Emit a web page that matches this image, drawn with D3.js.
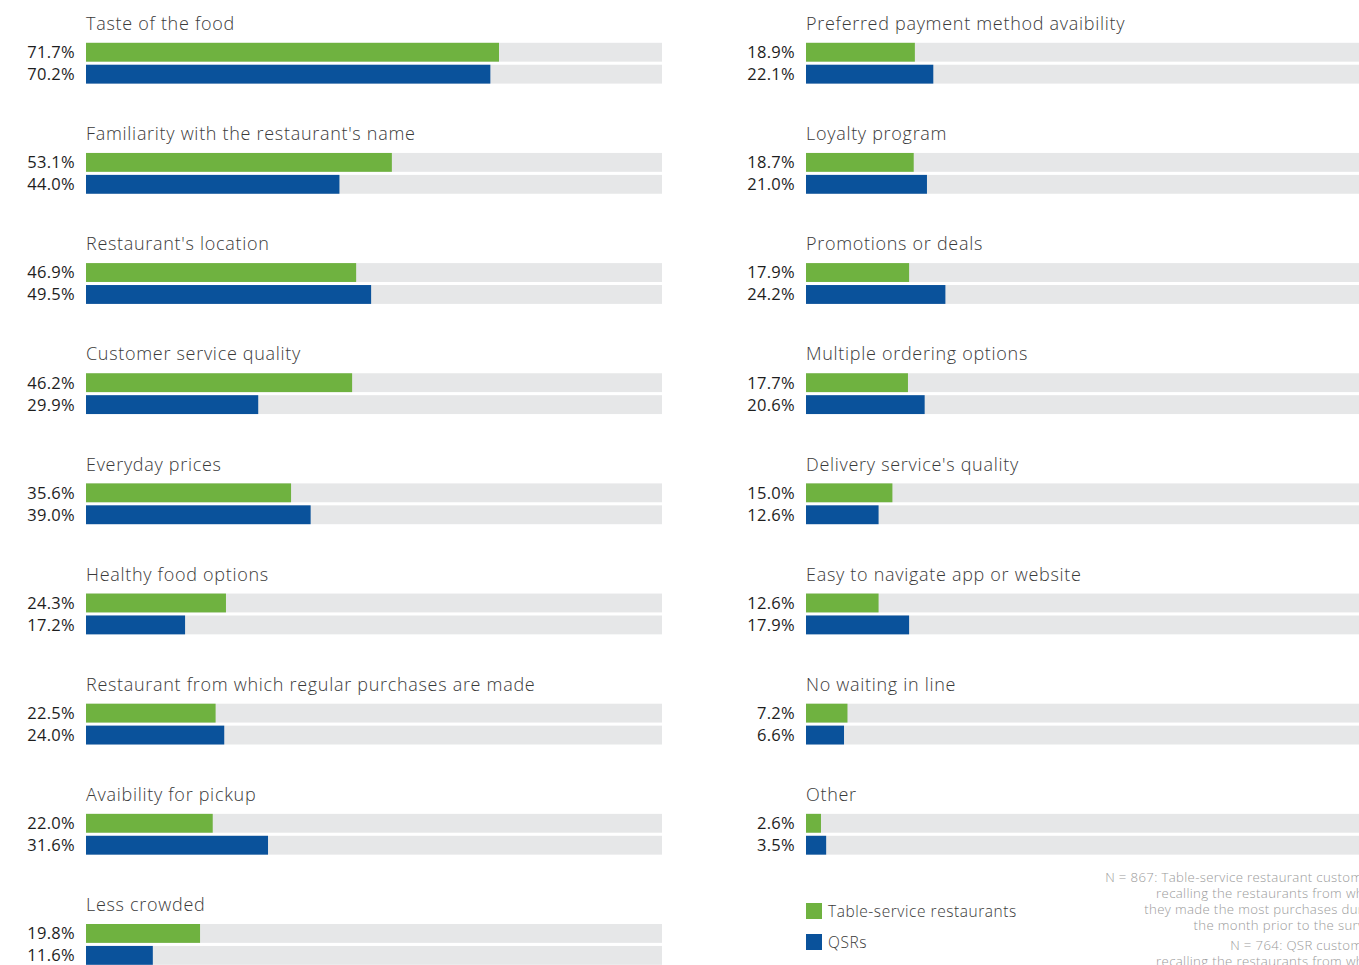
<!DOCTYPE html>
<html>
<head>
<meta charset="utf-8">
<script src="https://cdn.jsdelivr.net/npm/d3@7"></script>
<style>
  html, body { margin: 0; padding: 0; background: #fff; overflow: hidden; }
  svg { display: block; font-family: "Open Sans", Roboto, sans-serif; }
</style>
</head>
<body>
<svg id="chart" width="1359" height="965"></svg>
<script>
// Factors influencing restaurant choice, % of respondents
const leftCategories = [
  "Taste of the food",
  "Familiarity with the restaurant's name",
  "Restaurant's location",
  "Customer service quality",
  "Everyday prices",
  "Healthy food options",
  "Restaurant from which regular purchases are made",
  "Avaibility for pickup",
  "Less crowded"
];
const leftTableService = [71.7, 53.1, 46.9, 46.2, 35.6, 24.3, 22.5, 22.0, 19.8];
const leftQSR          = [70.2, 44.0, 49.5, 29.9, 39.0, 17.2, 24.0, 31.6, 11.6];

const rightCategories = [
  "Preferred payment method avaibility",
  "Loyalty program",
  "Promotions or deals",
  "Multiple ordering options",
  "Delivery service's quality",
  "Easy to navigate app or website",
  "No waiting in line",
  "Other"
];
const rightTableService = [18.9, 18.7, 17.9, 17.7, 15.0, 12.6, 7.2, 2.6];
const rightQSR          = [22.1, 21.0, 24.2, 20.6, 12.6, 17.9, 6.6, 3.5];

const seriesNames = ["Table-service restaurants", "QSRs"];
const colors = ["#6fb240", "#0a529b"];
const trackColor = "#e6e7e8";

const footnotes = [
  ["N = 867: Table-service restaurant customers",
   "recalling the restaurants from which",
   "they made the most purchases during",
   "the month prior to the survey."],
  ["N = 764: QSR customers",
   "recalling the restaurants from which",
   "they made the most purchases during",
   "the month prior to the survey."]
];

const svg = d3.select("#chart");

const barWidth = 576;
const x = d3.scaleLinear().domain([0, 100]).range([0, barWidth]);
const groupStep = 110.15;

function drawColumn(left, cats, a, b) {
  const rows = cats.map((c, i) => ({ name: c, values: [a[i], b[i]] }));
  const y = d3.scaleLinear().domain([0, 1]).range([0, groupStep]);
  const g = svg.append("g").attr("transform", `translate(${left},0)`);

  const grp = g.selectAll("g.grp").data(rows).join("g")
    .attr("class", "grp")
    .attr("transform", (d, i) => `translate(0,${y(i)})`);

  grp.append("text")
    .attr("x", 0).attr("y", 30)
    .attr("font-size", 18).attr("font-weight", 300)
    .attr("letter-spacing", 0.7)
    .attr("fill", "#3a3a3a")
    .text(d => d.name);

  const sub = d3.scaleBand().domain([0, 1]).range([42.8, 83.6]).paddingInner(0.14);

  const bars = grp.selectAll("g.bar")
    .data(d => d.values.map((v, k) => ({ v, k })))
    .join("g").attr("class", "bar")
    .attr("transform", d => `translate(0,${sub(d.k)})`);

  bars.append("rect")
    .attr("x", 0).attr("y", 0)
    .attr("width", x(100)).attr("height", sub.bandwidth())
    .attr("fill", trackColor);

  bars.append("rect")
    .attr("x", 0).attr("y", 0)
    .attr("width", d => x(d.v)).attr("height", sub.bandwidth())
    .attr("fill", d => colors[d.k]);

  bars.append("text")
    .attr("x", -11).attr("y", sub.bandwidth() / 2)
    .attr("dy", "0.36em")
    .attr("text-anchor", "end")
    .attr("font-size", 16.5)
    .attr("letter-spacing", 0.3)
    .attr("fill", "#1e1e1e")
    .text(d => d.v.toFixed(1) + "%");
}

drawColumn(86, leftCategories, leftTableService, leftQSR);
drawColumn(806, rightCategories, rightTableService, rightQSR);

// Legend
const legend = svg.append("g").attr("transform", "translate(806,903)");
seriesNames.forEach((name, i) => {
  const row = legend.append("g").attr("transform", `translate(0,${i * 31})`);
  row.append("rect").attr("width", 16).attr("height", 16).attr("fill", colors[i]);
  row.append("text")
    .attr("x", 22).attr("y", 8).attr("dy", "0.36em")
    .attr("font-size", 15.5).attr("font-weight", 300)
    .attr("letter-spacing", 0.55)
    .attr("fill", "#3a3a3a")
    .text(name);
});

// Sample notes
const notes = svg.append("g").attr("text-anchor", "end")
  .attr("font-size", 13.2).attr("font-weight", 300)
  .attr("letter-spacing", 0.35).attr("fill", "#9a9a9a");
let ny = 882;
footnotes.forEach((block) => {
  block.forEach((line) => {
    notes.append("text").attr("x", 1382).attr("y", ny).text(line);
    ny += 16;
  });
  ny += 4;
});
</script>
</body>
</html>
